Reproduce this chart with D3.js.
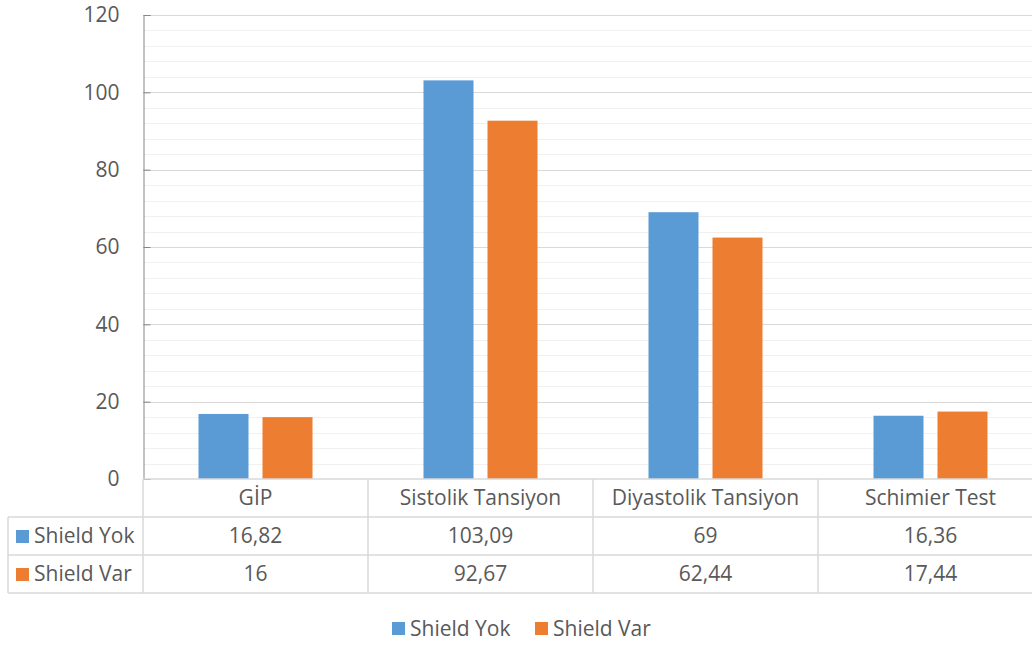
<!DOCTYPE html>
<html><head><meta charset="utf-8">
<script src="https://cdn.jsdelivr.net/npm/d3@7"></script>
<style>body{margin:0;background:#fff}svg{display:block}text{font-family:"Open Sans",Lato,sans-serif;fill:#595959}</style>
</head><body><svg id="c" width="1032" height="646"></svg>
<script>
const categories = ["GİP", "Sistolik Tansiyon", "Diyastolik Tansiyon", "Schimier Test"];
const seriesNames = ["Shield Yok", "Shield Var"];
const shieldYok = [16.82, 103.09, 69, 16.36];
const shieldVar = [16, 92.67, 62.44, 17.44];
const yokLabels = ["16,82", "103,09", "69", "16,36"];
const varLabels = ["16", "92,67", "62,44", "17,44"];
const yTicks = [0, 20, 40, 60, 80, 100, 120];
const colors = ["#5b9bd5", "#ed7d31"];

const FS = "21px";
const svg = d3.select("#c");
const L = 143, T = 15, B = 479, bandW = 225;
const x = d3.scaleBand().domain(categories).range([L, L + bandW * 4]).paddingInner(0).paddingOuter(0);
const y = d3.scaleLinear().domain([0, 120]).range([B, T]);

// minor gridlines
const minor = d3.range(0, 121, 4).filter(v => v % 20 !== 0);
svg.append("g").selectAll("line").data(minor).join("line")
  .attr("x1", L).attr("x2", 1032).attr("y1", d => Math.round(y(d)) + 0.5).attr("y2", d => Math.round(y(d)) + 0.5)
  .attr("stroke", "#f0f0f0").attr("stroke-width", 1);
// major gridlines
svg.append("g").selectAll("line").data(yTicks.filter(d => d > 0)).join("line")
  .attr("x1", L).attr("x2", 1032).attr("y1", d => Math.round(y(d)) + 0.5).attr("y2", d => Math.round(y(d)) + 0.5)
  .attr("stroke", "#d9d9d9").attr("stroke-width", 1);

// bars
const barW = 50, gap = 14;
const series = [shieldYok, shieldVar];
series.forEach((vals, si) => {
  svg.append("g").selectAll("rect").data(vals).join("rect")
    .attr("x", (d, i) => x(categories[i]) + x.bandwidth() / 2 - barW - gap / 2 + si * (barW + gap))
    .attr("width", barW)
    .attr("y", d => y(d)).attr("height", d => y(0) - y(d))
    .attr("fill", colors[si]);
});

// y axis
const yAxis = d3.axisLeft(y).tickValues(yTicks).tickSize(-7).tickPadding(24);
const ga = svg.append("g").attr("transform", `translate(${L + 0.5},0)`).call(yAxis);
ga.select(".domain").attr("stroke", "#868686");
ga.selectAll(".tick line").attr("stroke", "#868686");
ga.selectAll(".tick text").style("font-size", FS).attr("fill", "#595959").style("font-family", "'Open Sans',Lato,sans-serif");

// data table
const rowH = 38, r0 = B, r1 = B + rowH, r2 = B + 2 * rowH, r3 = B + 3 * rowH;
const grid = svg.append("g").attr("stroke", "#d9d9d9").attr("stroke-width", 1.5);
grid.append("line").attr("x1", L).attr("x2", 1032).attr("y1", r0).attr("y2", r0);
[r1, r2, r3].forEach(r => grid.append("line").attr("x1", 8).attr("x2", 1032).attr("y1", r).attr("y2", r));
grid.append("line").attr("x1", 8).attr("x2", 8).attr("y1", r1).attr("y2", r3);
categories.forEach(c => grid.append("line").attr("x1", x(c)).attr("x2", x(c)).attr("y1", r0).attr("y2", r3));

const tbl = svg.append("g").style("font-size", FS);
tbl.selectAll(".hdr").data(categories).join("text")
  .attr("x", d => x(d) + bandW / 2).attr("y", (r0 + r1) / 2 + 7).attr("text-anchor", "middle").text(d => d);
[yokLabels, varLabels].forEach((labs, si) => {
  const ry = si === 0 ? r1 : r2;
  tbl.append("g").selectAll("text").data(labs).join("text")
    .attr("x", (d, i) => x(categories[i]) + bandW / 2).attr("y", ry + rowH / 2 + 7)
    .attr("text-anchor", "middle").text(d => d);
  tbl.append("rect").attr("x", 16).attr("y", ry + rowH / 2 - 6).attr("width", 13).attr("height", 13).attr("fill", colors[si]);
  tbl.append("text").attr("x", 34).attr("y", ry + rowH / 2 + 7).text(seriesNames[si]);
});

// legend
const leg = svg.append("g").style("font-size", FS);
const legX = [392, 535];
seriesNames.forEach((n, i) => {
  leg.append("rect").attr("x", legX[i]).attr("y", 622).attr("width", 13).attr("height", 13).attr("fill", colors[i]);
  leg.append("text").attr("x", legX[i] + 18).attr("y", 636).text(n);
});
</script></body></html>
